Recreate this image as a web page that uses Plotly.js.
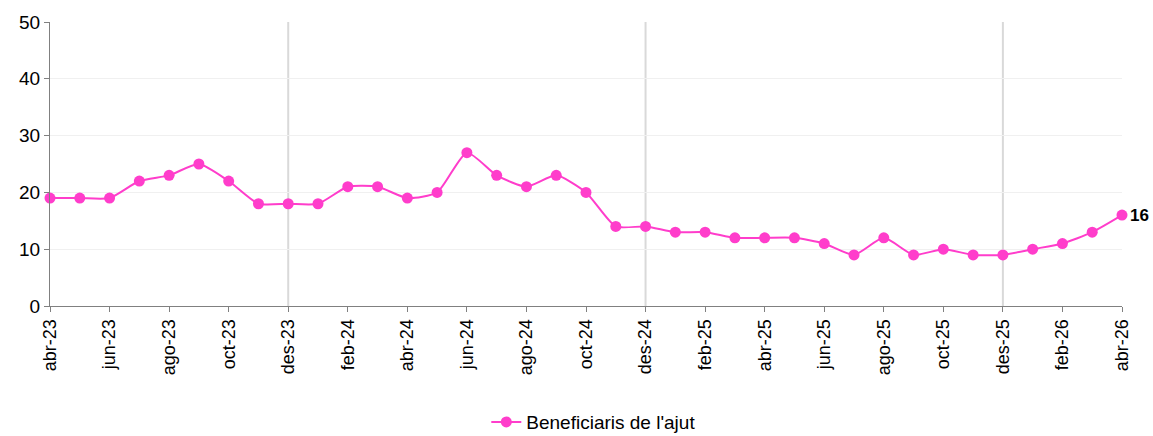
<!DOCTYPE html>
<html>
<head>
<meta charset="utf-8">
<script src="https://cdn.plot.ly/plotly-3.0.1.min.js"></script>
<style>html,body{margin:0;padding:0;background:#fff;}#chart{width:1153px;height:436px;}</style>
</head>
<body>
<div id="chart"></div>
<script>
var months = ["abr-23","mai-23","jun-23","jul-23","ago-23","set-23","oct-23","nov-23","des-23",
  "gen-24","feb-24","mar-24","abr-24","mai-24","jun-24","jul-24","ago-24","set-24","oct-24","nov-24","des-24",
  "gen-25","feb-25","mar-25","abr-25","mai-25","jun-25","jul-25","ago-25","set-25","oct-25","nov-25","des-25",
  "gen-26","feb-26","mar-26","abr-26"];
var beneficiaris = [19,19,19,22,23,25,22,18,18,
  18,21,21,19,20,27,23,21,23,20,14,14,
  13,13,12,12,12,11,9,12,9,10,9,9,
  10,11,13,16];
var tickLabels = months.filter(function(m,i){return i%2===0;});
var yearMarks = ["des-23","des-24","des-25"];
var seriesName = "Beneficiaris de l'ajut";
var color = "#FF3DCB";
var fontFam = "Liberation Sans, Arial, sans-serif";

var lastIdx = beneficiaris.length - 1;
var trace = {
  x: months, y: beneficiaris, type: "scatter", mode: "lines+markers",
  name: seriesName,
  line: {color: color, width: 2, shape: "spline", smoothing: 0.6},
  marker: {color: color, size: 11},
  cliponaxis: false
};
var shapes = yearMarks.map(function(m){
  return {type: "line", xref: "x", yref: "paper", x0: m, x1: m, y0: 0, y1: 1,
    line: {color: "#d9d9d9", width: 2}, layer: "below"};
});
var layout = {
  width: 1153, height: 436,
  margin: {l: 50, r: 31, t: 22, b: 130},
  paper_bgcolor: "#fff", plot_bgcolor: "#fff",
  font: {family: fontFam, size: 19, color: "#000"},
  showlegend: true,
  legend: {orientation: "h", xref: "container", yref: "container", x: 0.515, xanchor: "center",
    y: 0.032, yanchor: "middle", font: {size: 19}},
  xaxis: {type: "category", range: [0, lastIdx], tickmode: "array", tickvals: tickLabels, ticktext: tickLabels,
    tickangle: -90, showgrid: false, showline: true, linecolor: "#808080", linewidth: 1,
    ticks: "outside", ticklen: 5, tickcolor: "#808080", tickfont: {size: 18},
    zeroline: false, fixedrange: true, automargin: false,
    minor: {ticks: "outside", ticklen: 5, tickcolor: "#808080", showgrid: false}},
  yaxis: {range: [0, 50], dtick: 10, showgrid: true, gridcolor: "#f0f0f0", gridwidth: 1,
    showline: true, linecolor: "#808080", linewidth: 1, ticks: "outside", ticklen: 5, tickcolor: "#808080",
    zeroline: false, tickfont: {size: 19}, fixedrange: true, automargin: false},
  shapes: shapes,
  annotations: [{x: months[lastIdx], y: beneficiaris[lastIdx], xref: "x", yref: "y",
    text: "<b>" + beneficiaris[lastIdx] + "</b>", showarrow: false, xanchor: "left", xshift: 6,
    font: {family: fontFam, size: 17, color: "#000"}}]
};
Plotly.newPlot("chart", [trace], layout, {displayModeBar: false, staticPlot: true});
</script>
</body>
</html>
